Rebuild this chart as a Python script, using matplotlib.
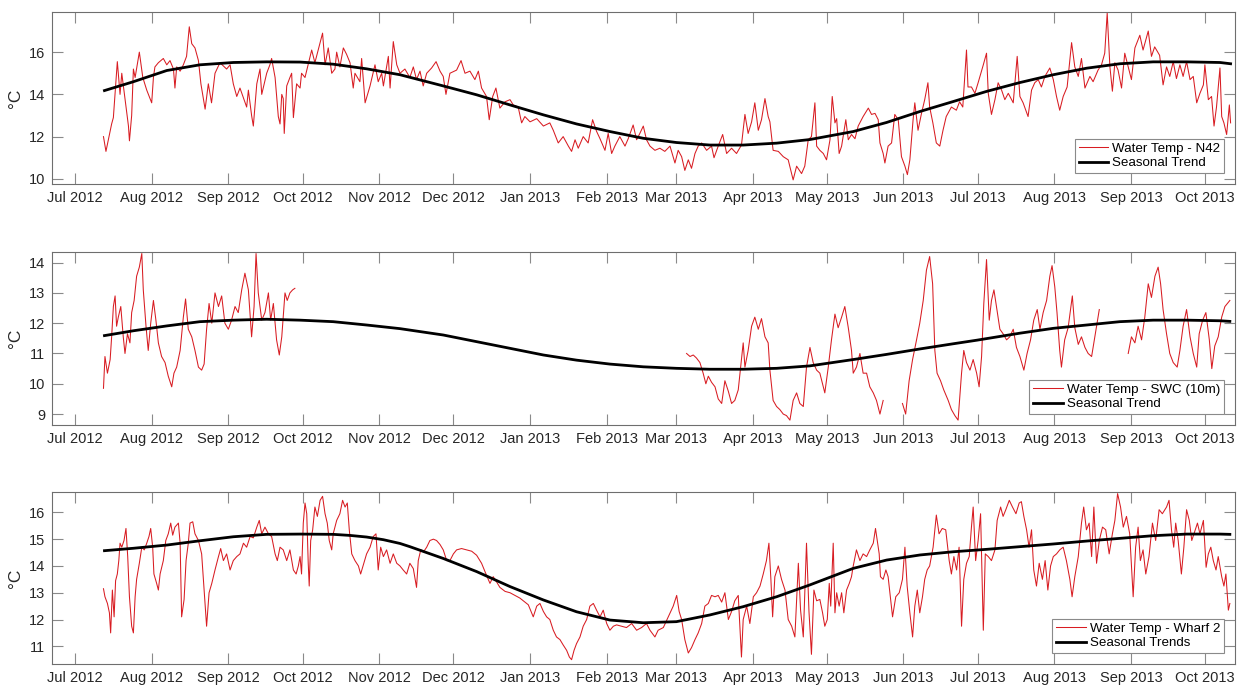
import numpy as np
import pandas as pd
import matplotlib
matplotlib.use('Agg')
from matplotlib import pyplot as plt
import matplotlib.dates as mdates

plt.rcParams['font.family'] = ['Liberation Sans', 'DejaVu Sans']

# days counted from 1 Jul 2012, temperatures in degC
n42_day = [11.5, 12.5, 14.8, 15.5, 17.1, 18.2, 18.9, 20.2, 21.6, 22.0, 22.9, 23.6, 24.3, 25.6, 26.0, 27.4, 29.0,
           31.0, 31.7, 32.3, 33.7, 35.7, 37.1, 38.4, 39.8, 40.4, 41.1, 42.5, 43.8, 45.1, 46.2, 47.2, 48.5, 49.9,
           50.9, 52.6, 53.9, 55.2, 56.6, 58.6, 61.3, 62.7, 64.0, 65.4, 66.7, 69.4, 70.1, 71.4, 72.1, 73.5, 74.8,
           75.5, 77.5, 78.8, 79.5, 80.9, 82.2, 82.9, 83.6, 84.2, 84.6, 85.6, 86.9, 87.6, 88.3, 89.6, 91.0, 91.6,
           93.0, 95.7, 97.0, 100.1, 101.1, 102.4, 103.8, 105.1, 105.8, 107.1, 108.5, 109.8, 111.2, 112.5, 113.2,
           115.2, 115.9, 117.3, 119.3, 121.3, 122.6, 124.0, 124.7, 126.7, 127.4, 128.7, 130.1, 131.4, 133.4,
           135.4, 136.8, 138.1, 139.5, 140.8, 142.2, 144.2, 146.0, 147.6, 148.9, 150.0, 151.6, 154.3, 156.1,
           157.7, 159.7, 161.7, 163.1, 164.4, 166.4, 167.5, 168.9, 170.2, 171.8, 173.9, 175.9, 177.2, 179.2,
           180.6, 181.9, 184.0, 186.7, 189.4, 192.0, 193.4, 195.4, 197.4, 199.5, 200.8, 202.2, 203.5, 205.5,
           207.5, 209.3, 210.9, 212.3, 214.3, 215.6, 217.0, 218.3, 220.3, 222.4, 223.7, 225.7, 227.1, 228.4,
           229.8, 231.1, 232.5, 234.5, 236.5, 238.5, 240.6, 242.6, 243.9, 245.3, 246.6, 248.0, 249.3, 250.7,
           252.0, 253.4, 255.4, 257.4, 258.4, 260.1, 261.9, 263.5, 265.5, 267.5, 269.5, 270.9, 272.2, 273.6,
           274.9, 276.3, 277.6, 279.0, 280.3, 281.0, 282.3, 284.4, 286.4, 288.4, 290.4, 291.8, 293.8, 295.1,
           296.5, 297.8, 299.2, 299.9, 301.2, 302.6, 303.9, 305.3, 306.2, 307.3, 308.0, 309.0, 310.0, 311.7,
           312.7, 314.0, 315.4, 316.7, 318.7, 320.8, 322.1, 323.5, 324.8, 325.5, 326.8, 327.5, 328.8, 330.2,
           331.5, 332.9, 334.2, 335.6, 336.6, 337.6, 338.9, 339.6, 340.9, 342.3, 343.6, 344.9, 345.6, 346.9,
           348.3, 349.7, 351.0, 352.3, 354.4, 356.4, 357.7, 359.0, 360.5, 361.1, 362.5, 363.9, 365.2, 367.3,
           368.6, 369.3, 370.6, 372.0, 373.3, 374.7, 376.0, 377.4, 379.4, 381.0, 382.1, 383.4, 385.4, 386.8,
           388.1, 389.5, 390.8, 392.2, 394.2, 395.6, 396.9, 398.2, 399.6, 401.2, 403.0, 404.3, 405.7, 407.0,
           408.4, 410.4, 411.7, 413.7, 415.1, 416.4, 417.4, 418.5, 419.5, 420.5, 421.8, 423.2, 424.5, 425.9,
           427.2, 428.6, 430.6, 431.9, 434.0, 435.3, 436.6, 438.6, 440.0, 441.4, 442.7, 444.1, 445.4, 446.8,
           448.1, 449.5, 450.9, 452.2, 453.6, 454.9, 456.3, 456.9, 458.3, 459.6, 460.6, 461.6, 463.0, 463.7,
           464.6, 465.7, 466.8, 467.3]
n42_temp = [12.0, 11.3, 12.6, 12.9, 15.55, 14.0, 15.0, 13.8, 12.5, 11.8, 13.0, 15.2, 14.8, 15.7, 16.0, 14.8, 14.2,
            13.6, 14.8, 15.3, 15.5, 15.7, 15.4, 15.6, 15.2, 14.3, 15.3, 15.1, 15.4, 15.8, 17.2, 16.4, 16.2, 15.6,
            14.5, 13.3, 14.5, 13.6, 15.0, 15.5, 15.2, 15.4, 14.5, 13.9, 14.3, 13.4, 14.2, 13.0, 12.5, 14.5, 15.2,
            14.0, 15.0, 15.4, 15.7, 14.8, 12.95, 12.6, 14.0, 13.8, 12.15, 14.4, 14.8, 15.0, 12.9, 14.5, 14.3, 15.0,
            14.8, 16.1, 15.5, 16.9, 15.4, 16.2, 15.0, 15.2, 16.0, 15.3, 16.2, 15.9, 15.5, 14.3, 15.0,
            14.6, 15.7, 13.6, 14.4, 15.4, 14.6, 15.0, 14.4, 15.8, 14.3, 16.5, 15.4, 15.0, 15.2,
            14.8, 15.3, 14.7, 15.1, 14.4, 15.0, 15.25, 15.55, 15.1, 14.85, 14.0, 15.0, 15.15, 15.6,
            15.0, 15.1, 14.7, 15.1, 14.3, 13.9, 12.8, 13.9, 14.3, 13.35, 13.65, 13.75, 13.5, 13.4,
            12.65, 12.95, 12.7, 12.85, 12.5, 12.65, 12.3, 11.7, 12.0, 11.55, 11.3, 11.85, 11.45, 12.0,
            11.7, 12.8, 12.25, 11.9, 11.35, 12.15, 11.2, 11.55, 12.0, 11.55, 11.9, 12.55, 11.85, 12.15,
            12.5, 11.85, 11.55, 11.35, 11.45, 11.3, 11.55, 10.75, 11.35, 11.05, 10.4, 10.9, 10.5, 11.2,
            11.55, 11.7, 11.35, 11.55, 11.0, 11.55, 12.1, 11.2, 11.45, 11.2, 11.6, 13.05, 12.15, 12.7,
            13.6, 12.3, 12.8, 13.8, 12.95, 12.7, 11.35, 11.3, 11.05, 10.9, 9.95, 10.6, 10.25, 10.6,
            11.85, 12.0, 13.6, 11.55, 11.35, 11.2, 10.9, 11.85, 13.9, 12.65, 12.85, 11.2, 11.55, 12.8,
            11.85, 12.1, 11.9, 12.5, 12.95, 13.35, 13.05, 13.1, 12.8, 11.7, 11.2, 10.75, 11.55, 11.7,
            13.05, 12.8, 11.05, 10.6, 10.2, 10.9, 12.8, 13.6, 12.3, 13.1, 13.75, 14.55, 13.4, 12.65,
            11.7, 11.55, 12.3, 12.95, 13.4, 13.25, 13.65, 13.4, 16.1, 14.35, 14.35, 14.05, 14.55, 15.4,
            15.95, 14.05, 13.05, 13.75, 14.55, 14.2, 13.75, 14.05, 13.6, 15.8, 13.9, 13.6, 12.95, 14.2,
            14.55, 14.7, 14.35, 14.85, 15.25, 14.7, 13.9, 13.25, 13.9, 14.35, 16.45, 15.3, 14.85, 15.7,
            14.3, 14.85, 14.6, 15.15, 15.4, 15.95, 17.85, 15.3, 14.15, 15.5, 15.15, 14.3, 15.95, 15.3,
            14.7, 16.2, 16.8, 16.1, 17.0, 15.8, 16.25, 15.85, 14.45, 15.3, 14.85, 15.55, 14.75, 15.4,
            14.85, 15.55, 14.7, 14.85, 13.6, 14.05, 14.45, 15.4, 13.75, 13.9, 12.5, 13.4, 15.25, 12.95,
            12.65, 12.1, 13.5, 12.65]
n42_trend_day = [11.9, 23.6, 37.1, 50.5, 64.0, 77.5, 91.0, 104.4, 117.9, 131.4, 148.9, 162.4, 175.9, 189.4,
                 202.8, 216.3, 229.8, 243.2, 256.7, 270.2, 283.7, 297.1, 314.7, 328.2, 341.7, 355.1, 368.6,
                 382.1, 395.6, 409.1, 422.5, 436.0, 449.5, 463.0, 467.3]
n42_trend = [14.18, 14.6, 15.13, 15.4, 15.51, 15.54, 15.53, 15.43, 15.21, 14.93, 14.4, 13.98, 13.5, 13.03,
             12.6, 12.24, 11.92, 11.72, 11.6, 11.6, 11.69, 11.86, 12.24, 12.67, 13.19, 13.66, 14.14,
             14.56, 14.93, 15.24, 15.45, 15.54, 15.54, 15.51, 15.45]

swc_day = [11.5, 12.1, 13.1, 14.2, 14.8, 15.5, 16.2, 16.8, 17.5, 18.5, 19.5, 20.2, 21.2, 22.2, 22.9, 23.9, 24.9,
           26.0, 27.0, 27.6, 28.7, 29.6, 30.6, 31.7, 32.7, 33.7, 35.0, 36.4, 37.7, 39.1, 40.0, 41.1, 42.5, 43.8,
           44.7, 45.8, 47.2, 48.5, 49.9, 51.2, 52.2, 53.2, 54.2, 55.3, 56.6, 58.0, 59.3, 60.6, 62.0, 63.3, 64.7,
           66.0, 67.4, 68.7, 70.1, 71.4, 72.4, 73.2, 74.1, 75.5, 76.8, 78.2, 79.1, 80.2, 81.5, 82.6, 83.6, 84.9,
           85.8, 86.9, 88.0, 88.9, 150.0,
           247.3, 248.7, 250.0, 251.3, 252.7, 254.0, 255.1, 256.1, 257.4, 258.8, 260.1, 261.5, 262.8, 264.2,
           265.5, 266.8, 268.2, 269.5, 270.2, 270.9, 272.2, 273.6, 274.9, 276.3, 277.6, 279.0, 280.3, 281.0,
           282.3, 283.7, 285.0, 286.4, 287.7, 289.1, 290.4, 291.8, 293.1, 294.5, 295.8, 297.2, 298.5, 299.9,
           301.2, 302.6, 303.2, 304.6, 305.9, 307.3, 308.6, 310.0, 311.3, 312.7, 314.0, 314.7, 316.0, 317.4,
           318.7, 320.1, 321.4, 322.8, 324.1, 325.5, 326.8, 330.0,
           334.6, 335.9, 337.3, 338.7, 340.3, 341.6, 343.0, 344.3, 345.6, 346.8, 347.7, 348.6, 350.0, 351.3,
           353.1, 354.4, 355.8, 357.1, 358.5, 359.4, 360.5, 361.9, 363.2, 364.6, 365.6, 366.6, 367.5, 368.6,
           369.7, 370.6, 371.6, 372.6, 374.0, 375.3, 376.7, 378.0, 379.4, 380.7, 382.1, 383.7, 385.0, 386.4,
           387.7, 389.1, 390.2, 391.5, 392.9, 394.2, 395.1, 396.2, 397.1, 398.2, 398.9, 400.2, 401.6, 403.3,
           404.3, 405.7, 407.0, 408.4, 409.7, 411.1, 412.4, 414.2, 420.0,
           425.9, 427.2, 428.6, 429.9, 431.3, 432.6, 434.0, 435.3, 436.7, 438.0, 439.0, 440.0, 441.4, 442.7,
           444.1, 445.7, 446.8, 448.1, 449.5, 450.9, 452.2, 453.6, 454.6, 456.0, 457.3, 458.7, 459.7, 460.9,
           462.3, 463.7, 465.0, 466.0, 467.0]
swc_temp = [9.85, 10.9, 10.35, 10.8, 11.55, 12.55, 12.9, 11.9, 12.2, 12.55, 11.55, 11.0, 11.65, 11.35, 12.35,
            12.75, 13.55, 13.85, 14.3, 13.1, 11.9, 11.1, 12.0, 12.75, 12.1, 11.35, 10.9, 10.7, 10.25, 9.9, 10.35,
            10.55, 11.1, 12.2, 12.8, 11.8, 11.55, 11.1, 10.55, 10.45, 10.65, 11.8, 12.65, 12.0, 13.0, 12.55, 12.9,
            12.0, 11.8, 12.1, 12.55, 12.35, 13.1, 13.65, 13.1, 11.55, 12.55, 14.3, 13.0, 12.1, 12.35, 13.0, 12.1,
            12.65, 11.45, 10.95, 11.55, 13.0, 12.75, 13.0, 13.1, 13.15, np.nan,
            11.0, 10.9, 10.95, 10.85, 10.7, 10.35, 10.0, 10.25, 10.05, 9.9, 9.5, 9.35, 10.1, 9.75,
            9.35, 9.45, 9.8, 10.8, 11.35, 10.55, 11.1, 11.9, 12.2, 11.8, 12.15, 11.55, 11.35, 10.45,
            9.45, 9.25, 9.15, 9.0, 8.95, 8.8, 9.45, 9.7, 9.35, 9.25, 10.55, 11.2, 10.7, 10.45,
            10.35, 9.9, 9.7, 10.55, 11.45, 12.3, 11.85, 12.2, 12.55, 11.85, 11.1, 10.35, 10.55, 11.0,
            10.35, 10.35, 9.9, 9.7, 9.45, 9.0, 9.45, np.nan,
            9.35, 9.0, 10.1, 10.8, 11.45, 12.0, 12.75, 13.75, 14.2, 13.3, 11.1, 10.35, 10.1, 9.8,
            9.45, 9.15, 8.95, 8.8, 10.35, 11.1, 10.7, 10.45, 10.8, 10.35, 9.9, 10.9, 12.65, 14.1,
            12.1, 12.75, 13.1, 12.55, 11.8, 11.65, 11.45, 11.55, 11.8, 11.2, 10.9, 10.45, 11.0, 11.45,
            12.1, 12.45, 11.8, 12.35, 12.75, 13.55, 13.9, 13.2, 12.35, 11.1, 10.55, 11.45, 11.85, 12.9,
            11.85, 11.3, 11.55, 11.2, 11.0, 10.9, 11.55, 12.45, np.nan,
            11.0, 11.55, 11.35, 11.9, 11.45, 12.2, 13.3, 12.85, 13.55, 13.85, 13.3, 12.45, 11.65, 11.0,
            10.7, 10.55, 11.1, 11.9, 12.45, 11.55, 11.0, 10.55, 11.65, 12.1, 12.35, 11.45, 10.5, 11.25,
            11.55, 12.2, 12.55, 12.65, 12.75]
swc_trend_day = [11.9, 23.6, 37.1, 50.5, 64.0, 77.5, 91.0, 104.4, 117.9, 131.4, 148.9, 162.4, 175.9, 189.4,
                 202.8, 216.3, 229.8, 243.2, 256.7, 270.2, 283.7, 297.1, 314.7, 328.2, 341.7, 355.1, 364.8,
                 382.1, 395.6, 409.1, 422.5, 436.0, 449.5, 463.0, 467.0]
swc_trend = [11.59, 11.75, 11.91, 12.05, 12.1, 12.13, 12.1, 12.05, 11.94, 11.82, 11.61, 11.39, 11.17, 10.95,
             10.78, 10.65, 10.56, 10.51, 10.48, 10.48, 10.51, 10.59, 10.8, 10.97, 11.15, 11.32, 11.44,
             11.67, 11.83, 11.94, 12.05, 12.1, 12.1, 12.08, 12.06]

wharf_day = [11.5, 12.1, 13.1, 13.9, 14.4, 15.1, 15.8, 16.4, 17.1, 17.7, 18.2, 18.9, 19.8, 20.6, 21.3, 22.0, 22.9,
             23.6, 24.3, 24.9, 26.0, 27.0, 28.0, 29.0, 29.9, 30.6, 31.4, 31.9, 33.0, 33.7, 34.4, 35.7, 36.7,
             37.7, 38.7, 39.5, 40.4, 41.8, 42.5, 43.1, 44.1, 44.9, 45.8, 46.5, 47.6, 48.5, 49.9, 51.2, 52.2,
             53.2, 54.2, 55.3, 56.6, 58.0, 58.9, 60.0, 61.3, 62.7, 64.0, 65.4, 66.7, 68.1, 69.4, 70.8, 72.1,
             73.5, 74.5, 75.5, 76.8, 78.2, 79.5, 80.9, 81.8, 82.9, 84.2, 85.6, 86.9, 88.3, 89.4, 90.3, 91.0,
             91.6, 92.3, 93.0, 93.7, 94.3, 94.7, 95.3, 96.1, 97.0, 98.0, 99.1, 100.1, 101.1, 102.0, 102.8,
             103.8, 104.4, 105.8, 107.1, 108.2, 109.2, 110.1, 110.9, 111.9, 113.2, 114.6, 115.5, 116.8,
             117.9, 119.3, 120.6, 121.7, 122.6, 123.6, 124.7, 126.0, 127.4, 128.7, 130.1, 131.4, 132.7, 134.1,
             135.4, 136.8, 138.1, 138.8, 139.8, 141.1, 142.2, 143.5, 144.9, 146.2, 147.6, 148.9, 150.3, 151.6,
             153.0, 154.3, 156.3, 158.4, 160.4, 162.4, 164.4, 166.4, 167.8, 169.1, 170.5, 171.8, 173.9, 175.9,
             177.9, 179.9, 181.9, 183.3, 185.3, 186.7, 188.0, 189.4, 190.7, 192.0, 193.4, 194.7, 196.1, 197.4,
             198.8, 199.9, 200.8, 201.8, 202.8, 204.2, 205.5, 206.9, 208.2, 209.6, 210.9, 212.3, 213.6, 215.0,
             216.3, 217.7, 219.0, 221.0, 223.0, 225.1, 227.1, 229.1, 231.1, 232.5, 234.5, 235.8, 237.9, 239.9,
             241.9, 243.3, 244.3, 245.3, 246.6, 248.0, 249.3, 250.7, 252.0, 253.4, 254.7, 256.1, 257.4, 258.8,
             260.1, 261.5, 262.8, 264.2, 265.5, 266.8, 268.2, 269.5, 270.2, 271.6, 272.9, 274.3, 275.6, 277.0,
             278.3, 279.6, 280.6, 281.4, 282.1, 283.0, 284.4, 285.7, 287.1, 288.4, 289.8, 291.1, 292.5, 293.4,
             294.5, 295.8, 296.8, 297.8, 298.8, 299.9,
             301.2, 302.3, 303.2, 304.2, 305.0, 305.6, 306.6, 307.3, 308.0, 309.0, 310.0, 310.9, 312.0, 313.1,
             314.0, 314.7, 316.0, 317.4, 318.7, 320.1, 321.4, 322.8, 323.7, 324.4, 325.2, 325.7, 326.8, 327.9,
             328.8, 329.8, 330.6, 331.9, 333.3, 334.6, 335.6, 336.5, 337.6, 338.7, 339.6, 340.6, 341.6, 342.7,
             343.6, 344.6, 345.6, 347.0, 348.3, 349.4, 350.7, 352.1, 353.5, 354.4, 355.4, 356.5, 357.5, 358.5,
             359.4, 360.5, 361.6, 362.5, 363.2, 364.2, 365.2, 366.2, 367.3, 368.1, 369.3, 370.6, 372.0, 372.9,
             374.3, 375.3, 376.4, 377.8, 379.1, 380.5, 381.8, 382.7, 383.7, 384.8, 385.8, 386.8, 387.7, 388.8,
             389.9, 391.2, 392.3, 393.4, 394.5, 395.6, 396.9, 398.2, 399.6, 400.9, 402.3, 403.2, 404.3, 405.7,
             407.0, 407.9, 409.0, 410.1, 411.1, 412.0, 413.1, 414.2, 415.5, 416.8, 418.2, 419.5, 420.5, 421.6,
             422.8, 423.9, 425.2, 426.5, 427.9, 428.9, 429.9, 430.8, 431.9, 433.0, 434.3, 435.7, 437.0, 438.4,
             439.7, 441.4, 442.4, 443.4, 444.3, 445.1, 446.1, 447.4, 448.4, 449.5, 450.6, 451.6, 452.5, 453.9,
             454.9, 456.3, 457.4, 458.3, 459.3, 460.3, 461.4, 462.3, 463.7, 464.6, 465.4, 466.4, 467.0]
wharf_temp = [13.15, 12.85, 12.6, 12.25, 11.5, 13.1, 12.1, 13.45, 13.7, 14.2, 14.85, 14.7, 14.95, 15.4, 14.35, 12.85,
              11.75, 11.5, 12.85, 13.5, 14.1, 14.7, 14.6, 14.85, 15.1, 15.4, 14.7, 13.7, 13.35, 13.1, 13.7, 14.2,
              14.95, 15.2, 15.6, 15.15, 15.45, 15.6, 14.85, 12.1, 12.75, 14.2, 14.85, 15.6, 15.65, 15.2, 14.95,
              14.45, 13.1, 11.75, 13.0, 13.35, 13.85, 14.35, 14.65, 14.2, 14.45, 13.85, 14.2, 14.35, 14.45, 14.85,
              14.7, 15.1, 15.05, 15.45, 15.7, 15.2, 15.45, 15.2, 15.1, 14.45, 14.2, 14.7, 14.6, 14.2, 14.6, 13.85,
              13.7, 14.0, 14.35, 13.7, 15.6, 16.35, 15.95, 14.1, 13.25, 14.95, 15.35, 16.2, 15.85, 16.45, 16.6,
              15.95, 15.6, 14.95, 14.6, 15.2, 15.7, 15.95, 16.45, 16.2, 16.35, 15.35, 14.45, 14.2, 14.0, 13.7,
              14.1, 14.45, 14.7, 15.1, 15.2, 13.85, 14.7, 14.35, 14.6, 14.1, 14.45, 14.1, 14.0, 13.85, 13.7,
              14.1, 13.9, 13.2, 14.2, 14.6, 14.55, 14.7, 14.95, 15.0, 14.95, 14.8, 14.6, 14.2, 14.2,
              14.45, 14.6, 14.65, 14.6, 14.55, 14.4, 14.1, 13.65, 13.35, 13.6, 13.4, 13.2, 13.05, 13.0,
              12.9, 12.8, 12.65, 12.55, 12.1, 12.5, 12.6, 12.3, 12.1, 12.0, 11.6, 11.35, 11.25, 11.05,
              10.85, 10.6, 10.5, 10.85, 11.1, 11.35, 11.75, 12.0, 12.5, 12.6, 12.35, 12.1, 12.35, 11.85,
              11.6, 11.75, 11.8, 11.75, 11.7, 11.85, 11.6, 11.7, 11.85, 11.6, 11.35, 11.6, 11.7, 12.1,
              12.5, 12.9, 12.3, 12.0, 11.25, 10.75, 10.95, 11.25, 11.5, 11.85, 12.5, 12.6, 12.9, 12.85,
              12.9, 12.65, 13.0, 12.0, 12.3, 12.7, 12.9, 10.6, 12.0, 12.5, 11.85, 12.85, 13.0, 13.25,
              13.7, 14.2, 14.85, 13.5, 12.1, 13.6, 14.0, 13.5, 13.1, 12.0, 11.75, 11.35, 14.1, 12.35,
              11.35, 14.85, 12.3, 10.7, 13.1, 12.7,
              12.75, 12.25, 11.75, 12.0, 13.35, 12.5, 14.85, 12.25, 13.0, 12.5, 13.0, 12.25, 13.1, 13.35,
              13.6, 14.0, 14.6, 14.2, 14.45, 14.35, 14.6, 14.85, 15.4, 14.95, 14.45, 13.6, 13.5, 13.85,
              13.6, 12.75, 12.1, 12.85, 13.0, 13.5, 14.7, 13.25, 12.25, 11.35, 12.5, 13.1, 12.25, 12.85,
              13.5, 13.85, 14.0, 14.7, 15.9, 15.2, 15.4, 15.35, 14.2, 13.7, 14.35, 13.85, 14.7, 11.75,
              13.5, 14.1, 14.35, 15.45, 16.2, 14.2, 14.95, 15.95, 11.6, 14.45, 14.35, 14.2, 14.6, 15.7,
              16.2, 15.85, 16.1, 16.45, 16.2, 15.95, 16.35, 16.4, 15.85, 15.35, 14.7, 15.35, 13.85, 13.25,
              14.1, 13.5, 14.2, 13.1, 14.0, 14.35, 14.45, 14.6, 14.7, 14.2, 13.5, 12.85, 13.6, 14.35,
              15.6, 16.2, 15.35, 15.6, 14.35, 16.2, 14.1, 14.95, 15.45, 15.35, 14.45, 15.2, 15.7, 16.7,
              16.2, 15.45, 15.85, 15.2, 12.85, 14.7, 15.45, 14.2, 14.6, 13.7, 14.35, 15.6, 14.95, 16.1,
              15.95, 16.2, 16.45, 15.35, 14.7, 15.6, 14.95, 13.7, 14.7, 16.1, 15.7, 14.95, 15.2, 15.6,
              15.2, 15.7, 13.95, 14.45, 14.7, 14.2, 13.85, 14.35, 13.6, 13.25, 13.7, 12.35, 12.6]
wharf_trend_day = [11.9, 23.6, 37.1, 50.5, 64.0, 77.5, 91.0, 104.4, 111.2, 117.9, 124.7, 131.4, 135.4, 148.9,
                   162.4, 175.9, 189.4, 202.8, 216.3, 229.8, 243.2, 256.7, 270.2, 283.7, 297.1, 314.7, 328.2,
                   341.7, 355.1, 368.6, 382.1, 395.6, 409.1, 422.5, 436.0, 449.5, 463.0, 467.0]
wharf_trend = [14.57, 14.66, 14.78, 14.94, 15.09, 15.18, 15.19, 15.18, 15.14, 15.08, 14.98, 14.84, 14.72, 14.28,
               13.79, 13.23, 12.73, 12.29, 11.98, 11.88, 11.92, 12.17, 12.48, 12.85, 13.29, 13.91, 14.22,
               14.41, 14.53, 14.62, 14.72, 14.82, 14.93, 15.03, 15.13, 15.19, 15.19, 15.18]

panels = [
    (n42_day, n42_temp, n42_trend_day, n42_trend, 'Water Temp - N42', 'Seasonal Trend',
     (9.75, 17.9), [10, 12, 14, 16], [0.0419, 0.732, 0.9525, 0.2505]),
    (swc_day, swc_temp, swc_trend_day, swc_trend, 'Water Temp - SWC (10m)', 'Seasonal Trend',
     (8.64, 14.35), [9, 10, 11, 12, 13, 14], [0.0419, 0.3814, 0.9525, 0.2518]),
    (wharf_day, wharf_temp, wharf_trend_day, wharf_trend, 'Water Temp - Wharf 2', 'Seasonal Trends',
     (10.34, 16.76), [11, 12, 13, 14, 15, 16], [0.0419, 0.0335, 0.9525, 0.2503]),
]

t0 = pd.Timestamp('2012-07-01')


def to_dates(days):
    return t0 + pd.to_timedelta(np.array(days, dtype=float), unit='D')


fig = plt.figure(figsize=(12.42, 6.87), dpi=100)

for day, temp, tday, trend, lab1, lab2, ylim, yticks, pos in panels:
    ax = fig.add_axes(pos)
    ax.plot(to_dates(day), temp, color='#d81c22', linewidth=0.75, label=lab1)
    ax.plot(to_dates(tday), trend, color='black', linewidth=2.0, label=lab2)
    ax.set_xlim(t0 - pd.Timedelta(days=9.3), t0 + pd.Timedelta(days=469.1))
    ax.set_ylim(*ylim)
    ax.set_yticks(yticks)
    ax.xaxis.set_major_locator(mdates.MonthLocator())
    ax.xaxis.set_major_formatter(mdates.DateFormatter('%b %Y'))
    ax.tick_params(direction='in', length=8, width=0.8, top=True, right=True,
                   color='#8a8a8a', labelcolor='#262626', labelsize=10.5, pad=5)
    for s in ax.spines.values():
        s.set_color('#6e6e6e')
        s.set_linewidth(0.8)
    ax.set_ylabel('°C', fontsize=12.5, color='#262626', labelpad=4)
    leg = ax.legend(loc='lower right', bbox_to_anchor=(0.9907, 0.062), borderaxespad=0,
                    fancybox=False, framealpha=1, edgecolor='#8a8a8a', fontsize=9.6,
                    handlelength=2.2, handletextpad=0.3, borderpad=0.3, labelspacing=0.15)
    leg.get_frame().set_linewidth(0.8)

plt.savefig('out.png', dpi=100)
